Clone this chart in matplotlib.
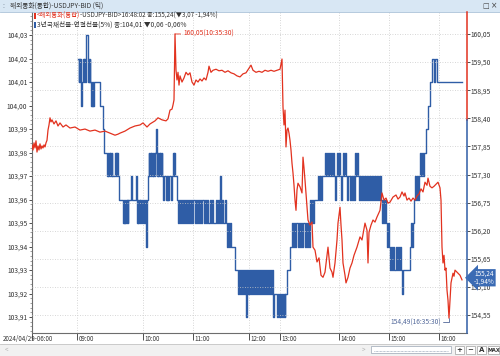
"""USDJPY tick chart vs. 3y KTB futures, twin axes"""

import matplotlib
matplotlib.use('Agg')
import matplotlib.pyplot as plt
import matplotlib.transforms as mtransforms
from matplotlib.patches import Rectangle
from matplotlib.ticker import FixedLocator, MultipleLocator, FuncFormatter

plt.rcParams['font.family'] = ['Noto Sans CJK KR', 'DejaVu Sans']

# ---- data -------------------------------------------------------------
# x = tick counter (tick chart, time labels sit at irregular positions)
time_pos = [0, 45, 111, 161, 217, 248, 307, 357, 407]
time_labels = ['2024/04/29-06:00', '09:00', '10:00', '11:00', '12:00',
               '13:00', '14:00', '15:00', '16:00']

# USDJPY bid (right axis)
usdjpy = [
    (0, 157.88), (1, 157.78), (2, 157.92), (3, 157.82), (4, 157.96), (5, 157.74),
    (6, 157.86), (7, 157.78), (8, 157.90), (9, 157.80), (10, 157.86), (11, 157.82),
    (12, 157.88), (13, 157.84), (14, 157.92), (15, 157.97), (16, 158.17), (17, 158.27),
    (18, 158.41), (19, 158.33), (20, 158.37), (22, 158.29), (24, 158.35), (26, 158.25),
    (28, 158.31), (31, 158.23), (34, 158.27), (38, 158.21), (43, 158.23), (48, 158.17),
    (53, 158.19), (58, 158.15), (63, 158.17), (68, 158.13), (73, 158.15), (78, 158.11),
    (83, 158.07), (86, 158.09), (88, 158.11), (93, 158.15), (98, 158.21), (103, 158.25),
    (108, 158.27), (111, 158.31), (115, 158.23), (118, 158.29), (123, 158.35), (126, 158.41),
    (130, 158.37), (134, 158.35), (136, 158.39), (138, 158.56), (140, 158.58), (141, 158.66),
    (142, 158.76), (143, 160.05), (144, 159.34), (145, 159.15), (146, 159.30), (147, 159.05),
    (148, 159.23), (150, 159.11), (152, 159.19), (154, 159.30), (156, 159.25), (158, 159.29),
    (160, 159.11), (162, 159.05), (164, 159.15), (166, 159.11), (168, 159.17), (170, 159.13),
    (172, 159.19), (174, 159.15), (176, 159.30), (177, 159.42), (179, 159.30), (181, 159.34),
    (184, 159.36), (187, 159.33), (190, 159.34), (193, 159.30), (196, 159.33), (199, 159.29),
    (202, 159.27), (205, 159.23), (208, 159.21), (211, 159.27), (214, 159.29), (217, 159.38),
    (219, 159.44), (221, 159.34), (224, 159.30), (227, 159.32), (230, 159.30), (233, 159.34),
    (236, 159.32), (239, 159.34), (242, 159.32), (245, 159.34), (248, 159.36), (250, 159.56),
    (251, 158.62), (252, 158.27), (253, 158.56), (254, 157.84), (255, 158.17), (256, 158.21),
    (257, 158.11), (258, 157.97), (259, 157.78), (260, 157.52), (261, 157.33), (262, 157.09),
    (263, 156.80), (264, 156.60), (265, 157.00), (266, 157.13), (268, 157.06), (270, 156.94),
    (271, 157.64), (272, 157.43), (273, 157.19), (275, 156.66), (276, 156.41), (278, 156.31),
    (280, 156.37), (281, 155.88), (283, 155.82), (285, 155.59), (287, 155.67), (289, 155.33),
    (291, 155.29), (293, 155.39), (295, 155.72), (296, 155.88), (298, 155.47), (300, 155.39),
    (301, 155.29), (303, 155.57), (305, 156.02), (306, 156.35), (308, 156.66), (309, 156.31),
    (310, 156.02), (311, 155.57), (313, 155.33), (314, 155.18), (316, 155.29), (318, 155.47),
    (320, 155.57), (322, 155.72), (325, 155.88), (328, 156.08), (330, 156.02), (333, 156.35),
    (335, 156.21), (336, 155.57), (337, 156.17), (339, 156.31), (341, 156.41), (343, 156.37),
    (345, 156.47), (348, 156.60), (350, 156.94), (352, 156.80), (354, 156.84), (356, 156.74),
    (358, 156.76), (361, 156.86), (364, 156.90), (366, 156.82), (368, 156.86), (370, 156.96),
    (372, 156.88), (373, 156.94), (375, 156.80), (377, 156.84), (379, 156.78), (381, 156.84),
    (383, 156.80), (385, 156.88), (387, 156.92), (389, 157.02), (391, 156.96), (393, 157.15),
    (395, 157.09), (396, 157.23), (398, 157.07), (400, 157.04), (402, 157.07), (404, 157.11),
    (406, 157.15), (408, 157.04), (409, 156.80), (410, 155.88), (411, 155.57), (412, 155.72),
    (413, 155.43), (414, 155.47), (415, 155.04), (416, 154.84), (417, 154.49), (418, 154.84),
    (419, 155.18), (420, 155.27), (421, 155.37), (422, 155.31), (423, 155.43), (425, 155.39),
    (426, 155.37), (428, 155.33), (430, 155.24),
]

# 3y KTB futures, continuous (left axis) - step changes
ktb3y = [
    (46, 104.02), (46.5, 104.01), (47, 104.02), (47.5, 104.01), (48, 104.02), (48.5, 104.01),
    (49, 104.00), (49.6, 104.01),
    (51, 104.02), (51.7, 104.01), (52.4, 104.02), (53, 104.01), (53.6, 104.02), (54, 104.03),
    (55.5, 104.02), (56, 104.01), (56.6, 104.02), (57.2, 104.01), (57.8, 104.02), (58, 104.01),
    (59, 104.00), (59.5, 104.01), (60, 104.00), (60.5, 104.01), (61, 104.00), (61.5, 104.01),
    (68, 104.00), (71, 103.99), (72, 103.98),
    (75, 103.97), (75.7, 103.98), (76.4, 103.97), (77, 103.98), (77.7, 103.97), (78.4, 103.98),
    (79, 103.97), (79.7, 103.98), (80.3, 103.97),
    (83, 103.98), (83.6, 103.97), (84.2, 103.98), (84.8, 103.97), (85.4, 103.98), (86, 103.97),
    (87, 103.96),
    (91, 103.95), (91.6, 103.96), (92.2, 103.95), (92.8, 103.96), (93.4, 103.95), (94, 103.96),
    (94.6, 103.95), (95.2, 103.96), (95.8, 103.95), (96.4, 103.96),
    (99, 103.97), (99.6, 103.96), (104, 103.97), (104.6, 103.96),
    (105, 103.95), (105.7, 103.96), (106.4, 103.95), (107, 103.96), (107.7, 103.95), (108.4, 103.96),
    (109, 103.95), (110, 103.96), (111, 103.95), (112, 103.96), (113, 103.95), (113.6, 103.96),
    (114, 103.94), (114.5, 103.96), (115.5, 103.97),
    (116.5, 103.98), (117.2, 103.97), (118, 103.98), (118.7, 103.97), (119.4, 103.98), (120, 103.97),
    (120.7, 103.98), (121.4, 103.97), (122, 103.98), (122.7, 103.97), (123.4, 103.98),
    (124, 103.99), (124.6, 103.98), (125.2, 103.97), (125.8, 103.98), (126.4, 103.97), (127, 103.98),
    (127.7, 103.97), (128.4, 103.98), (129, 103.97), (129.7, 103.98), (130.4, 103.97),
    (131, 103.96), (131.6, 103.97), (134, 103.96), (134.6, 103.97), (135.2, 103.96), (135.8, 103.97),
    (136.4, 103.96), (137, 103.97), (139, 103.96), (139.6, 103.97),
    (141, 103.98), (142, 103.97), (142.5, 103.98), (143, 103.97), (145, 103.96),
    (146, 103.95), (147, 103.96), (148, 103.95), (149, 103.96), (150, 103.95), (151, 103.96),
    (152, 103.95), (153, 103.96), (154, 103.95), (155, 103.96), (156, 103.95), (157, 103.96),
    (158, 103.95), (159, 103.96), (160, 103.95), (161, 103.96), (163, 103.95), (164, 103.96),
    (165, 103.95), (166, 103.96), (167, 103.95), (168, 103.96), (169, 103.95), (170, 103.96),
    (172, 103.95), (173, 103.96), (174, 103.95), (175, 103.96), (176, 103.95), (178, 103.96),
    (179, 103.95), (180, 103.96), (181, 103.95), (184, 103.96), (185, 103.95), (186, 103.96),
    (187, 103.95),
    (188, 103.97), (188.6, 103.96), (189, 103.95), (190, 103.96), (191.5, 103.95), (193, 103.96),
    (194, 103.95),
    (195, 103.94), (196, 103.95), (197, 103.94), (198, 103.95), (199, 103.94),
    (203, 103.93), (206, 103.92), (207, 103.93), (208, 103.92), (209, 103.93), (210, 103.92),
    (211, 103.93), (212, 103.92), (213, 103.93),
    (214, 103.91), (214.6, 103.93),
    (215, 103.92), (216, 103.93), (217, 103.92), (218, 103.93), (219, 103.92), (220, 103.93),
    (221, 103.92), (222, 103.93), (223, 103.92), (224, 103.93), (225, 103.92), (226, 103.93),
    (227, 103.92), (228, 103.93), (229, 103.92), (230, 103.93), (231, 103.92), (232, 103.93),
    (233, 103.92), (234, 103.93), (235, 103.92), (236, 103.93), (237, 103.92), (238, 103.93),
    (239, 103.92), (240, 103.93),
    (241, 103.91), (242, 103.92), (245, 103.91), (246, 103.92), (247, 103.91), (248, 103.92),
    (249, 103.91), (250, 103.92), (251, 103.91), (252, 103.92), (252.6, 103.91), (253, 103.92),
    (255, 103.93), (258, 103.94), (260, 103.95),
    (261, 103.94), (262, 103.95), (263, 103.94), (264, 103.95), (266, 103.94), (267, 103.95),
    (268, 103.94), (269, 103.95), (270, 103.94), (271, 103.95), (273, 103.94), (274, 103.95),
    (275, 103.94), (276, 103.95), (277, 103.94),
    (278, 103.96), (279, 103.95), (280, 103.96), (281, 103.95), (282, 103.96),
    (286, 103.97), (287, 103.96), (288, 103.97), (289, 103.96), (290, 103.97),
    (293, 103.98), (294, 103.97), (295, 103.98), (296, 103.97), (297, 103.98), (298, 103.97),
    (299, 103.98), (300, 103.97), (301, 103.98), (302, 103.97), (303, 103.96), (304, 103.97),
    (305, 103.98), (306, 103.97), (307, 103.98), (308, 103.97), (309, 103.96), (310, 103.97),
    (311, 103.98), (312, 103.97), (313, 103.98), (314, 103.97), (315, 103.96), (316, 103.97),
    (318, 103.96), (319, 103.97), (320, 103.96), (321, 103.97), (322, 103.96), (323, 103.98),
    (324, 103.97), (325, 103.98), (326, 103.97),
    (327, 103.96), (328, 103.97), (329, 103.96), (330, 103.97), (331, 103.96), (332, 103.97),
    (333, 103.96), (334, 103.97), (335, 103.96), (336, 103.97), (337, 103.96), (338, 103.97),
    (339, 103.96), (340, 103.97), (341, 103.96), (342, 103.97), (343, 103.96), (344, 103.97),
    (345, 103.96), (346, 103.97), (347, 103.96), (348, 103.97), (349, 103.96),
    (350, 103.95), (351, 103.96), (352, 103.95), (353, 103.96), (354, 103.95), (355, 103.94),
    (356, 103.95), (357, 103.94),
    (358, 103.93), (359, 103.94), (360, 103.93), (361, 103.94), (362, 103.93), (364, 103.94),
    (365, 103.93), (366, 103.94), (367, 103.93), (368, 103.94), (369, 103.93),
    (370, 103.92), (370.6, 103.93),
    (378, 103.94), (379, 103.95), (380, 103.94), (381, 103.95), (382, 103.96), (383, 103.97),
    (384, 103.96), (385, 103.97), (386, 103.96), (387, 103.97), (388, 103.98), (389, 103.97),
    (390, 103.98), (391, 103.97), (392, 103.98),
    (394, 103.99), (396, 104.00), (398, 104.01), (400, 104.02), (402, 104.01), (403, 104.02),
    (405, 104.01), (430, 104.01),
]

left_ticks = [103.91, 103.92, 103.93, 103.94, 103.95, 103.96, 103.97,
              103.98, 103.99, 104.00, 104.01, 104.02, 104.03]
right_ticks = [154.55, 155.10, 155.65, 156.20, 156.75, 157.30, 157.85,
               158.40, 158.95, 159.50, 160.05]

fx_last, fx_chg, fx_pct = 155.24, -3.07, -1.94
ktb_last, ktb_chg, ktb_pct = 104.01, -0.06, -0.06
fx_high, fx_high_time = 160.05, '10:35:30'
fx_low, fx_low_time = 154.49, '16:35:30'

# ---- style ------------------------------------------------------------
RED = '#e2321f'
BLUE = '#2f5da6'
TXT = '#333333'
GRID = '#c9c9c9'
W, H = 500, 356


def comma(v, pos=None):
    return '{:.2f}'.format(v).replace('.', ',')


fig = plt.figure(figsize=(W / 100, H / 100), dpi=100)
fig.patch.set_facecolor('white')

# header bar
fig.add_artist(Rectangle((0, 1 - 12 / H), 1, 12 / H, transform=fig.transFigure,
                         facecolor='#d8e7f4', edgecolor='none'))
fig.add_artist(plt.Line2D([0, 1], [1 - 12 / H] * 2, transform=fig.transFigure,
                          color='#a9c1d8', lw=0.6))
fig.text(2 / W, 1 - 6 / H, ':', fontsize=5, color='#7a8a9a', va='center')
fig.text(10 / W, 1 - 6 / H, '해외통화(통합)-USDJPY-BID (틱)', fontsize=4.8,
         color=TXT, va='center')
fig.text(482 / W, 1 - 6 / H, '□', fontsize=5, color='#444', va='center', family='DejaVu Sans')
fig.text(491 / W, 1 - 6 / H, '×', fontsize=5.5, color='#444', va='center', family='DejaVu Sans')

# bottom scroll bar
fig.add_artist(Rectangle((0, 0), 1, 12 / H, transform=fig.transFigure,
                         facecolor='#f1f1f1', edgecolor='none'))
fig.add_artist(plt.Line2D([0, 1], [12 / H] * 2, transform=fig.transFigure,
                          color='#c4c4c4', lw=0.6))
fig.text(5 / W, 6 / H, '<', fontsize=4.5, color='#b0b0b0', va='center')
fig.text(362 / W, 6 / H, '>', fontsize=4.5, color='#b0b0b0', va='center')
fig.add_artist(Rectangle((371 / W, 3 / H), 80 / W, 7 / H, transform=fig.transFigure,
                         facecolor='white', edgecolor='#9aa6b4', lw=0.5))
fig.add_artist(plt.Line2D([374 / W, 448 / W], [5 / H] * 2, transform=fig.transFigure,
                          color='#7d8fa6', lw=0.5, ls=(0, (1, 1))))
for x0, w, s in [(455, 9, '+'), (466, 9, '−'), (477, 9, 'A'), (488, 11, 'MAX')]:
    fig.add_artist(Rectangle((x0 / W, 2 / H), w / W, 8 / H, transform=fig.transFigure,
                             facecolor='white', edgecolor='#a0a0a0', lw=0.5))
    fig.text((x0 + w / 2) / W, 6 / H, s, fontsize=3.6 if s == 'MAX' else 5,
             color='#333', ha='center', va='center', weight='bold', family='DejaVu Sans')

# ---- axes -------------------------------------------------------------
ax = fig.add_axes([32 / W, 1 - 333 / H, 435 / W, 321 / H])
ax2 = ax.twinx()

ax.set_xlim(0, 435)
ax.set_ylim(103.9032, 104.0398)
ax2.set_ylim(154.20, 160.48)

bt, bv = zip(*ktb3y)
ax.plot(bt, bv, drawstyle='steps-post', color=BLUE, lw=1.0)
rt, rv = zip(*usdjpy)
ax2.plot(rt, rv, color=RED, lw=0.9)

for a in (ax, ax2):
    a.patch.set_visible(False)
    for s in ('top', 'right'):
        a.spines[s].set_visible(False)
ax2.spines['left'].set_visible(False)
ax2.spines['bottom'].set_visible(False)
ax.spines['left'].set_color('#6d6d6d')
ax.spines['bottom'].set_color('#6d6d6d')
ax.spines['left'].set_linewidth(0.8)
ax.spines['bottom'].set_linewidth(0.8)
ax.set_zorder(1)
ax2.set_zorder(2)

# right spine: red upper part, blue lower part
split = (333 - 120) / 321
ax2.plot([1, 1], [split, 1], transform=ax2.transAxes, color=RED, lw=1.1, clip_on=False)
ax2.plot([1, 1], [0, split], transform=ax2.transAxes, color=BLUE, lw=1.1, clip_on=False)

# grid: horizontal from right axis, vertical from time ticks
ax2.yaxis.set_major_locator(FixedLocator(right_ticks))
ax2.yaxis.set_major_formatter(FuncFormatter(comma))
ax2.grid(axis='y', color=GRID, lw=0.6, ls=(0, (1, 2)))
ax.xaxis.set_major_locator(FixedLocator(time_pos))
ax.set_xticklabels(time_labels)
ax.grid(axis='x', color=GRID, lw=0.6, ls=(0, (1, 2)))

ax.yaxis.set_major_locator(FixedLocator(left_ticks))
ax.yaxis.set_major_formatter(FuncFormatter(comma))
ax.yaxis.set_minor_locator(MultipleLocator(0.002))

ax.tick_params(axis='y', which='major', labelsize=4.8, colors=TXT, length=2.5, pad=0.8, width=0.6)
ax.tick_params(axis='y', which='minor', length=1.5, width=0.5, color='#777')
ax2.tick_params(axis='y', labelsize=4.8, colors=TXT, length=2, pad=0.8, width=0.6)
ax.tick_params(axis='x', labelsize=4.5, colors=TXT, length=5, pad=-3.6, width=0.6)
shift = mtransforms.ScaledTranslation(1.5 / 100, 0, fig.dpi_scale_trans)
first_shift = mtransforms.ScaledTranslation(-29 / 100, 0, fig.dpi_scale_trans)
for i, lab in enumerate(ax.get_xticklabels()):
    lab.set_horizontalalignment('left')
    lab.set_transform(lab.get_transform() + (first_shift if i == 0 else shift))

# ---- legend lines -----------------------------------------------------
fig.add_artist(Rectangle((34 / W, 1 - 19 / H), 1.6 / W, 6 / H, transform=fig.transFigure,
                         facecolor=RED, edgecolor='none'))
fig.add_artist(Rectangle((34 / W, 1 - 28 / H), 1.6 / W, 6 / H, transform=fig.transFigure,
                         facecolor=BLUE, edgecolor='none'))
t1 = fig.text(37 / W, 1 - 16 / H, '<해외통화(통합)', fontsize=4.6, color=RED, va='center')
fig.add_artist(plt.Annotation(
    '-USDJPY-BID>16:48:02 종:{}({}{} {}%)'.format(
        comma(fx_last), '▼', comma(abs(fx_chg)), comma(fx_pct)),
    xy=(1, 0.5), xycoords=t1, va='center', ha='left', fontsize=4.5, color=TXT))
fig.text(37 / W, 1 - 25 / H, '3년국채선물-연결선물(5%) 종:{} {}{} {}%'.format(
    comma(ktb_last), '▼', comma(abs(ktb_chg)), comma(ktb_pct)),
    fontsize=4.8, color=TXT, va='center')

# ---- annotations ------------------------------------------------------
hi_i = rv.index(fx_high)
lo_i = rv.index(fx_low)
ax2.annotate('{}({})'.format(comma(fx_high), fx_high_time), xy=(rt[hi_i], fx_high),
             xytext=(6, 0), textcoords='offset points', ha='left', va='center',
             fontsize=4.8, color=RED,
             arrowprops=dict(arrowstyle='-', color=RED, lw=0.6, shrinkA=0, shrinkB=0))
ax2.annotate('{}({})'.format(comma(fx_low), fx_low_time), xy=(rt[lo_i], fx_low),
             xytext=(-6, -3), textcoords='offset points', ha='right', va='center',
             fontsize=4.8, color='#52689a',
             arrowprops=dict(arrowstyle='-', color='#52689a', lw=0.6, shrinkA=0, shrinkB=0,
                             connectionstyle='angle,angleA=0,angleB=90,rad=0'))
box = ax2.annotate('{}\n{}%'.format(comma(fx_last), comma(fx_pct)), xy=(1, fx_last),
                   xycoords=('axes fraction', 'data'), xytext=(5, 1.5),
                   textcoords='offset points', ha='left', va='center', fontsize=4.6,
                   color='white', linespacing=0.9, annotation_clip=False,
                   bbox=dict(boxstyle='larrow,pad=0.15', fc='#3b6bb4', ec='none'))
box.set_zorder(10)

fig.savefig('out.png', dpi=100)
